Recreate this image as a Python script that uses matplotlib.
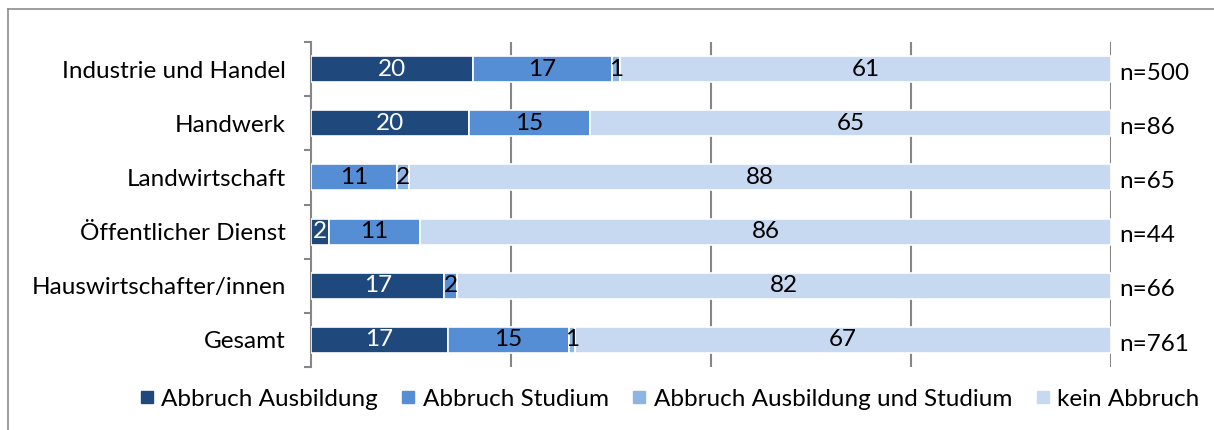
import matplotlib
matplotlib.use("Agg")
import matplotlib.pyplot as plt
from matplotlib.lines import Line2D
import numpy as np

plt.rcParams['font.family'] = ['Lato', 'DejaVu Sans']

categories = ["Industrie und Handel", "Handwerk", "Landwirtschaft",
              "Öffentlicher Dienst", "Hauswirtschafter/innen", "Gesamt"]
abbruch_ausbildung = [20.2, 19.77, 0.0, 2.27, 16.67, 17.08]
abbruch_studium = [17.4, 15.12, 10.77, 11.36, 1.52, 15.11]
abbruch_beides = [1.0, 0.0, 1.54, 0.0, 0.0, 0.79]
kein_abbruch = [61.4, 65.12, 87.69, 86.36, 81.82, 67.02]
n_labels = ["n=500", "n=86", "n=65", "n=44", "n=66", "n=761"]

series_names = ["Abbruch Ausbildung", "Abbruch Studium",
                "Abbruch Ausbildung und Studium", "kein Abbruch"]
series_values = [abbruch_ausbildung, abbruch_studium, abbruch_beides, kein_abbruch]
colors = ["#1F497D", "#558ED5", "#8EB4E3", "#C6D9F1"]
text_colors = ["white", "black", "black", "black"]

FS = 17.5
GRAY = "#868686"

fig = plt.figure(figsize=(12.14, 4.30), dpi=100)
ax = fig.add_axes([311 / 1214, 63 / 430, 800 / 1214, 325 / 430])

y = np.arange(len(categories))
left = np.zeros(len(categories))
for name, vals, col, tcol in zip(series_names, series_values, colors, text_colors):
    vals = np.asarray(vals, dtype=float)
    bars = ax.barh(y, vals, left=left, height=0.48, color=col,
                   edgecolor="white", linewidth=1.2, label=name, zorder=3)
    for rect, v in zip(bars, vals):
        if v > 0:
            ax.text(rect.get_x() + rect.get_width() / 2,
                    rect.get_y() + rect.get_height() / 2,
                    f"{v:.0f}", ha="center", va="center",
                    color=tcol, fontsize=FS, zorder=4)
    left += vals

ax.set_xlim(0, 100)
ax.set_ylim(len(categories) - 0.5, -0.5)

# vertical gridlines
ax.set_xticks([25, 50, 75, 100])
ax.xaxis.grid(True, color=GRAY, linewidth=1.5, zorder=0)
ax.tick_params(axis="x", length=0, labelbottom=False)

# category axis: labels centred, ticks on the boundaries
ax.set_yticks(y)
ax.set_yticklabels(categories, fontsize=FS)
ax.set_yticks(np.arange(-0.5, len(categories), 1.0), minor=True)
ax.tick_params(axis="y", which="major", length=0, pad=18)
ax.tick_params(axis="y", which="minor", length=5, width=1.5, color=GRAY)

for s in ["top", "right", "bottom"]:
    ax.spines[s].set_visible(False)
ax.spines["left"].set_color(GRAY)
ax.spines["left"].set_linewidth(1.5)

# sample sizes at the right end of each bar
for yi, lab in zip(y, n_labels):
    ax.annotate(lab, xy=(100, yi), xytext=(6, -3), textcoords="offset points",
                ha="left", va="center", fontsize=FS, annotation_clip=False)

handles = [Line2D([], [], linestyle="none", marker="s", markersize=8.6,
                  markerfacecolor=c, markeredgecolor=c) for c in colors]
fig.legend(handles, series_names, loc="center", bbox_to_anchor=(0.552, 0.072),
           ncol=4, frameon=False, fontsize=FS, handlelength=0.5,
           handletextpad=0.35, columnspacing=1.0)

# chart area frame
fig.add_artist(Line2D([8 / 1214, 8 / 1214], [0, 1 - 9 / 430],
                      transform=fig.transFigure, color="#8C8C8C", linewidth=1.2))
fig.add_artist(Line2D([8 / 1214, 1], [1 - 9 / 430, 1 - 9 / 430],
                      transform=fig.transFigure, color="#8C8C8C", linewidth=1.2))

fig.savefig("out.png", dpi=100)
